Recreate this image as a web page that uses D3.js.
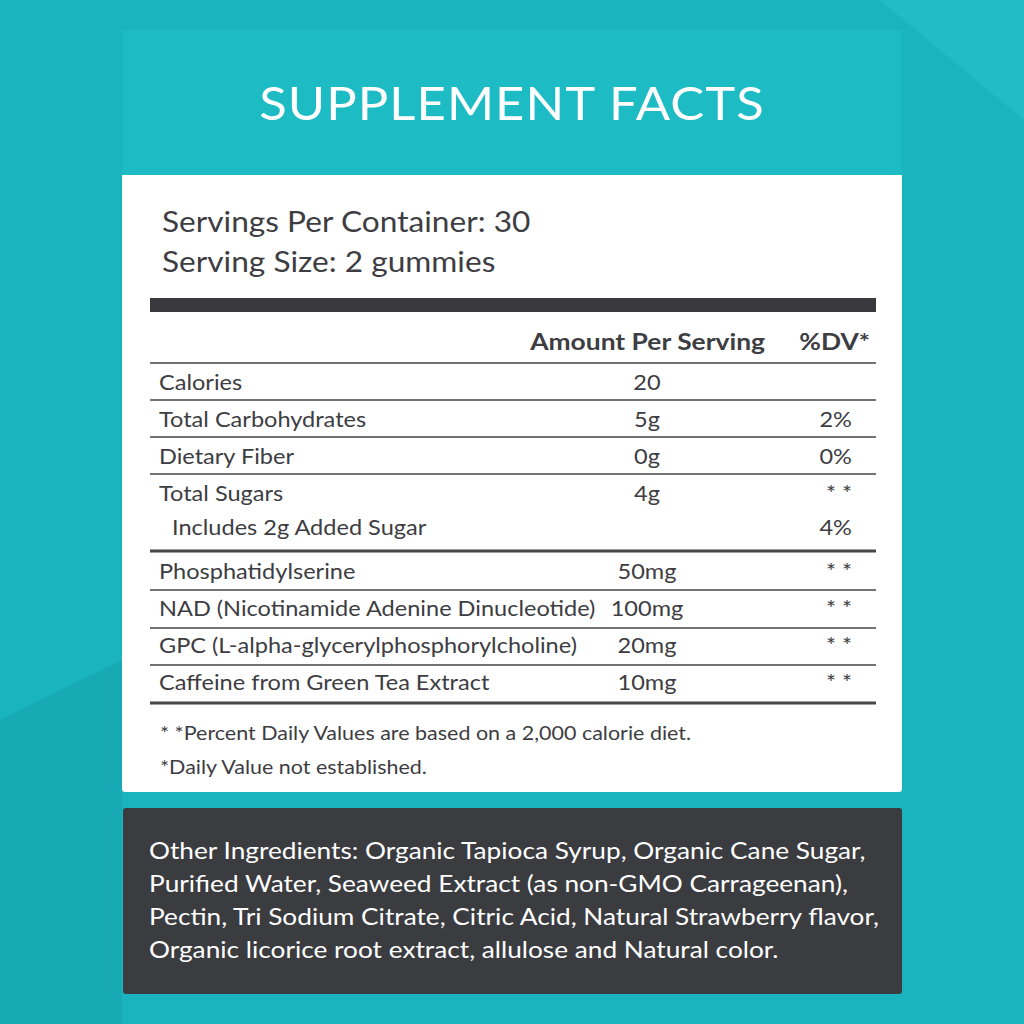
<!DOCTYPE html>
<html><head><meta charset="utf-8">
<script src="https://cdn.jsdelivr.net/npm/d3@7/dist/d3.min.js"></script>
<style>body{margin:0;background:#1ab4be}svg{display:block}</style>
</head><body>
<script>
const title = "SUPPLEMENT FACTS";
const servingLines = ["Servings Per Container: 30", "Serving Size: 2 gummies"];
const nutrients = ["Calories","Total Carbohydrates","Dietary Fiber","Total Sugars","  Includes 2g Added Sugar"];
const nutrientAmounts = ["20","5g","0g","4g",""];
const nutrientDV = ["","2%","0%","* *","4%"];
const actives = ["Phosphatidylserine","NAD (Nicotinamide Adenine Dinucleotide)","GPC (L-alpha-glycerylphosphorylcholine)","Caffeine from Green Tea Extract"];
const activeAmounts = ["50mg","100mg","20mg","10mg"];
const activeDV = ["* *","* *","* *","* *"];
const footnotes = ["* *Percent Daily Values are based on a 2,000 calorie diet.","*Daily Value not established."];
const otherLines = ["Other Ingredients: Organic Tapioca Syrup, Organic Cane Sugar,","Purified Water, Seaweed Extract (as non-GMO Carrageenan),","Pectin, Tri Sodium Citrate, Citric Acid, Natural Strawberry flavor,","Organic licorice root extract, allulose and Natural color."];

const svg = d3.select("body").append("svg").attr("width",1024).attr("height",1024);
const F = "Lato, 'Open Sans', sans-serif";
function stretch(sel,k){ const n=sel.node(); const w=n.getComputedTextLength(); if(w>0) sel.attr("textLength",w*k).attr("lengthAdjust","spacingAndGlyphs"); return sel; }
svg.append("rect").attr("width",1024).attr("height",1024).attr("fill","#1ab4be");
svg.append("path").attr("d","M880,0L1024,0L1024,120Z").attr("fill","#22bcc6");
svg.append("path").attr("d","M0,720L122,660L122,1024L0,1024Z").attr("fill","#17aab4");
svg.append("rect").attr("x",122).attr("y",30).attr("width",780).attr("height",762).attr("rx",3).attr("fill","#fff");
svg.append("rect").attr("x",122).attr("y",30).attr("width",780).attr("height",145).attr("fill","#1dbcc5");
stretch(svg.append("text").attr("x",512).attr("y",120).attr("text-anchor","middle").attr("font-family",F).attr("font-weight",400)
  .attr("font-size",47).attr("fill","#fff").attr("letter-spacing",1).text(title),1.08);
const ink="#3d3d42";
servingLines.forEach((t,i)=>stretch(svg.append("text").attr("x",162).attr("y",232+i*40).attr("font-family",F).attr("font-size",28).attr("fill",ink).text(t),1.13));
svg.append("rect").attr("x",150).attr("y",298).attr("width",726).attr("height",14).attr("fill","#38383d");
stretch(svg.append("text").attr("x",765).attr("y",350).attr("text-anchor","end").attr("font-family",F).attr("font-weight",700).attr("font-size",22).attr("fill",ink).text("Amount Per Serving"),1.2);
stretch(svg.append("text").attr("x",870).attr("y",350).attr("text-anchor","end").attr("font-family",F).attr("font-weight",700).attr("font-size",22).attr("fill",ink).text("%DV*"),1.2);
const line=(y,w)=>svg.append("rect").attr("x",150).attr("y",y-w/2).attr("width",726).attr("height",w).attr("fill","#45454a");
line(363,1.5);
const rowY = d3.scaleLinear().domain([0,1]).range([390,427]);
const txt=(x,y,t,anchor)=>stretch(svg.append("text").attr("x",x).attr("y",y).attr("text-anchor",anchor).attr("font-family",F).attr("font-size",22).attr("fill",ink).text(t),1.07);
nutrients.forEach((n,i)=>{
  const y = i<4 ? rowY(i) : 535;
  txt(n.startsWith(" ")?172:159,y,n.trim(),"start");
  txt(647,y,nutrientAmounts[i],"middle");
  txt(852,y,nutrientDV[i],"end");
});
[400,437,474].forEach(y=>line(y,1.5));
line(551,3);
const aY = d3.scaleLinear().domain([0,1]).range([579,616]);
actives.forEach((n,i)=>{
  txt(159,aY(i),n,"start");
  txt(647,aY(i),activeAmounts[i],"middle");
  txt(852,aY(i),activeDV[i],"end");
});
[590,628,665].forEach(y=>line(y,1.5));
line(703,3);
footnotes.forEach((t,i)=>stretch(svg.append("text").attr("x",160).attr("y",740+i*34).attr("font-family",F).attr("font-size",19).attr("fill",ink).text(t),1.13));
svg.append("rect").attr("x",123).attr("y",808).attr("width",779).attr("height",186).attr("rx",3).attr("fill","#3b3c40");
otherLines.forEach((t,i)=>stretch(svg.append("text").attr("x",149).attr("y",859+i*33).attr("font-family",F).attr("font-size",23).attr("fill","#fff").text(t),1.14));
</script>
</body></html>
